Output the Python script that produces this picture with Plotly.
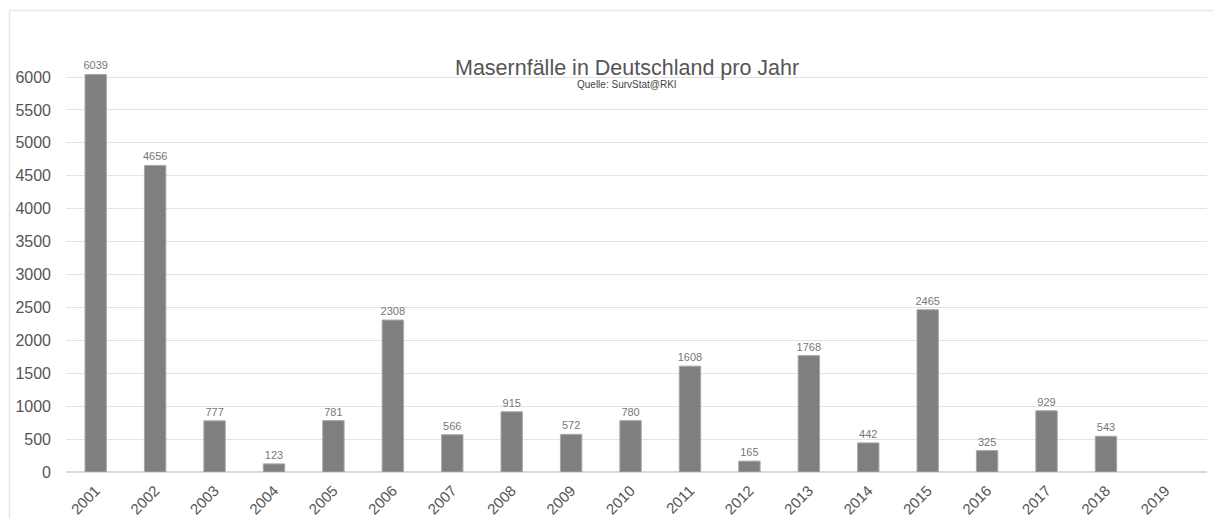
import plotly.graph_objects as go

years = [str(y) for y in range(2001, 2020)]
cases = [6039, 4656, 777, 123, 781, 2308, 566, 915, 572, 780, 1608, 165, 1768, 442, 2465, 325, 929, 543, None]
labels = [str(v) if v is not None else "" for v in cases]
y_ticks = list(range(0, 6001, 500))

W, H = 1213, 519
ml, mr, mt, mb = 66, 6, 20, 47
pw, ph = W - ml - mr, H - mt - mb
ytop = (472 - mt) / 395 * 6000

fig = go.Figure(go.Bar(
    x=list(range(len(years))), y=cases, text=labels, textposition="outside",
    textfont=dict(size=11, color="#777777", family="Liberation Sans, Arial"),
    marker=dict(color="#7f7f7f", line=dict(color="#a8a8a8", width=1)),
    width=0.36, cliponaxis=False, constraintext="none",
))

def px2x(p):
    return (p - ml) / pw

def px2y(p):
    return (H - mb - p) / ph

fig.update_layout(
    width=W, height=H, margin=dict(l=ml, r=mr, t=mt, b=mb, autoexpand=False),
    paper_bgcolor="white", plot_bgcolor="white", showlegend=False,
    font=dict(family="Liberation Sans, Arial", color="#333333"),
    xaxis=dict(tickmode="array", tickvals=list(range(len(years))), ticktext=years,
               range=[-0.5, 18.7], tickangle=-45, tickfont=dict(size=15, color="#555555"),
               showgrid=False, zeroline=False, showline=False, ticks="", ticklabelstandoff=6,
               automargin=False),
    yaxis=dict(range=[0, ytop], tickvals=y_ticks, tickfont=dict(size=16, color="#555555"),
               gridcolor="#e3e3e3", gridwidth=1, zeroline=True, zerolinecolor="#d9d9d9",
               showline=False, ticks="", ticklabelstandoff=14, automargin=False),
    annotations=[
        dict(text="Masernfälle in Deutschland pro Jahr", xref="paper", yref="paper",
             x=px2x(627), y=px2y(68), showarrow=False, xanchor="center", yanchor="middle",
             font=dict(size=21.5, color="#555555")),
        dict(text="Quelle: SurvStat@RKI", xref="paper", yref="paper",
             x=px2x(627), y=px2y(84), showarrow=False, xanchor="center", yanchor="middle",
             font=dict(size=10, color="#444444")),
    ],
    shapes=[
        dict(type="line", xref="paper", yref="paper", x0=px2x(9), x1=px2x(1213),
             y0=px2y(10.5), y1=px2y(10.5), line=dict(color="#e6e6e6", width=1.5)),
        dict(type="line", xref="paper", yref="paper", x0=px2x(9.5), x1=px2x(9.5),
             y0=px2y(10.5), y1=px2y(519), line=dict(color="#e6e6e6", width=1.5)),
    ],
)

fig.write_html("out.html")
